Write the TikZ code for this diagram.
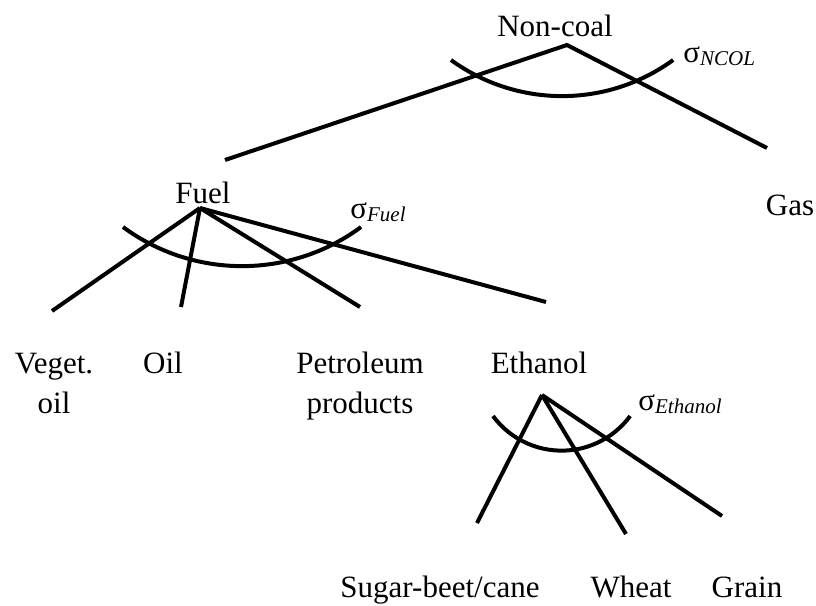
\documentclass[tikz,border=0pt]{standalone}
\usepackage{fontspec}
\setmainfont{Liberation Serif}
\usepackage{tikz}

\newcommand{\elsub}[1]{σ\raisebox{-1.5pt}{\fontsize{10.5}{11}\selectfont\itshape #1}}

\begin{document}
\begin{tikzpicture}[
		x=0.5pt, y=-0.5pt,
		item/.style={inner sep=0pt, anchor=base, font=\fontsize{15.5}{20}\selectfont, align=center},
		sigma_text/.style={inner sep=0pt, anchor=base west, font=\fontsize{15.5}{20}\selectfont},
		branch/.style={line width=2pt},
		elast/.style={line width=2pt}
		]
		\useasboundingbox (0,0) rectangle (816,606);
		
		% Top nest
		\node[item] (noncoal) at (555,36) {Non-coal};
		\node[item] (gas) at (790,215) {Gas};
		\node[sigma_text] (s_ncol) at (683,62) {\elsub{NCOL}};
		\coordinate (nc_top) at (567,45);
		\coordinate (nc_left) at (225,160);
		\coordinate (nc_right) at (767,148);
		
		% Fuel nest
		\node[item] (fuel) at (203,203) {Fuel};
		\node[sigma_text] (s_fuel) at (350,218) {\elsub{Fuel}};
		\node[item] (veget) at (54,413) {Veget.\\oil};
		\node[item] (oil) at (163,373) {Oil};
		\node[item] (petrol) at (360,413) {Petroleum\\products};
		\coordinate (fu_top) at (200,208);
		\coordinate (fu_veg) at (52,311);
		\coordinate (fu_oil) at (181,307);
		\coordinate (fu_pet) at (360,307);
		\coordinate (fu_eth) at (546,302);
		
		% Ethanol nest
		\node[item] (ethanol) at (539,373) {Ethanol};
		\node[sigma_text] (s_eth) at (638,410) {\elsub{Ethanol}};
		\node[item] (sugar) at (440,597) {Sugar-beet/cane};
		\node[item] (wheat) at (631,597) {Wheat};
		\node[item] (grain) at (747,597) {Grain};
		\coordinate (et_top) at (542,395);
		\coordinate (et_sug) at (477,523);
		\coordinate (et_whe) at (626,534);
		\coordinate (et_gra) at (722,516);
		
		% Branches
		\draw[branch] (nc_left) -- (nc_top) -- (nc_right);
		\draw[branch] (fu_top) -- (fu_veg);
		\draw[branch] (fu_top) -- (fu_oil);
		\draw[branch] (fu_top) -- (fu_pet);
		\draw[branch] (fu_top) -- (fu_eth);
		\draw[branch] (et_top) -- (et_sug);
		\draw[branch] (et_top) -- (et_whe);
		\draw[branch] (et_top) -- (et_gra);
		
		% Substitution arcs
		\draw[elast] (451,60) arc[start angle=234, end angle=306, radius=94.5pt];
		\draw[elast] (123,227) arc[start angle=233.6, end angle=306.4, radius=100.3pt];
		\draw[elast] (493,416) arc[start angle=216.4, end angle=323.6, radius=42.6pt];
		
	\end{tikzpicture}
\end{document}
